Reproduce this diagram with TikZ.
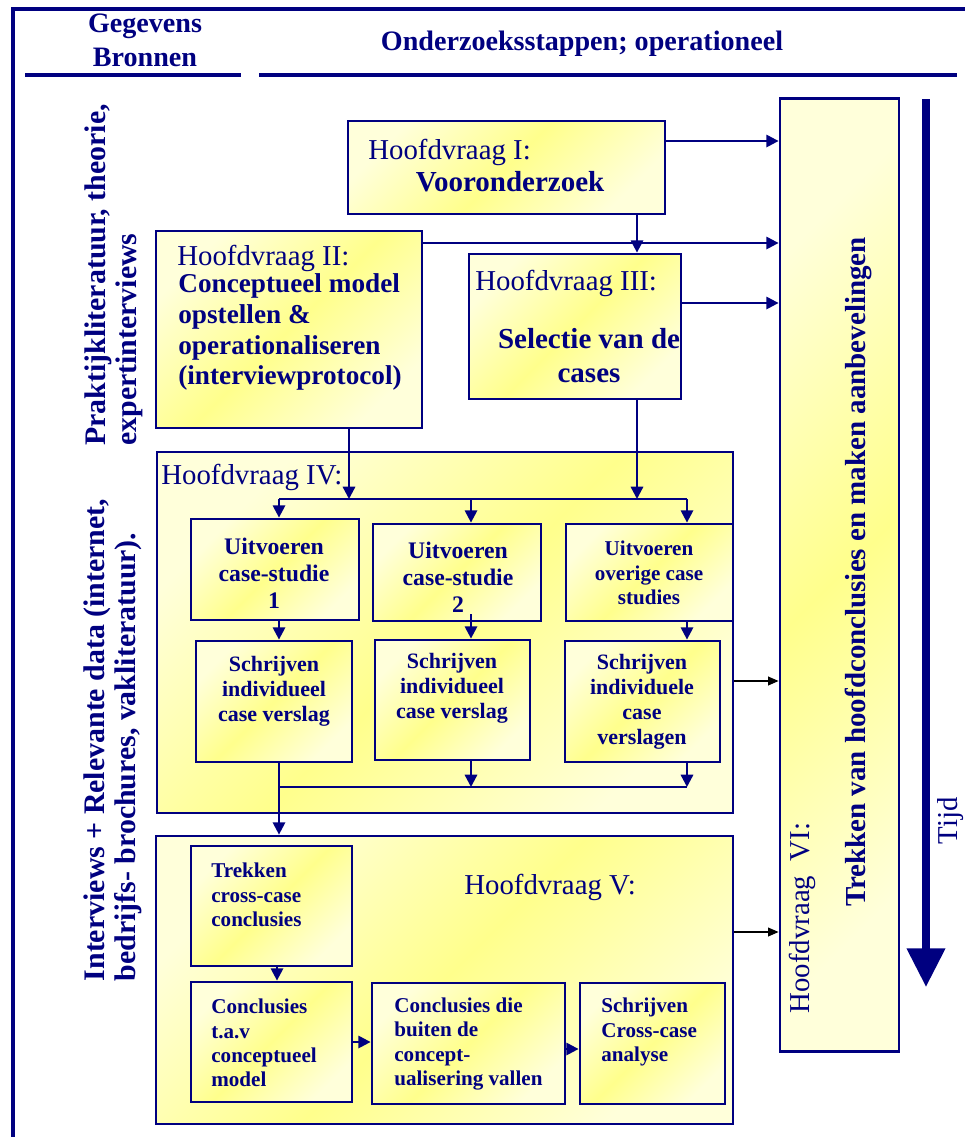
\documentclass[tikz,border=0pt]{standalone}
\usepackage{fontspec}
\setmainfont{Liberation Serif}
\usetikzlibrary{arrows.meta}

\definecolor{donkerblauw}{RGB}{0,0,128}
\definecolor{geel}{RGB}{255,255,140}
\definecolor{lichtgeel}{RGB}{255,255,218}

\begin{document}
\begin{tikzpicture}[x=0.02cm, y=-0.02cm]
			\tikzset{vak/.style={rectangle, draw=donkerblauw, line width=1.6pt, inner sep=0pt, top color=lichtgeel, bottom color=lichtgeel, middle color=geel, shading angle=45},
				lijn/.style={color=donkerblauw, line width=1.3pt},
				fleche/.style={lijn, >={Triangle[length=7pt, width=7pt]}, ->},
				zwart/.style={black, line width=0.8pt, >={Triangle[length=6pt, width=5pt]}, ->},
				titel/.style={text=donkerblauw, inner sep=0pt, font=\fontsize{16.4}{19}\selectfont},
				vet/.style={text=donkerblauw, inner sep=0pt, font=\fontsize{15.5}{17.6}\selectfont\bfseries, align=left},
				klein/.style={text=donkerblauw, inner sep=0pt, font=\fontsize{12.5}{14.2}\selectfont\bfseries, align=center}};

			\useasboundingbox (0,0) rectangle (965,1137);

			\draw[donkerblauw, line width=2pt] (13,1137) -- (13,9) -- (965,9);
			\draw[donkerblauw, line width=2.3pt] ( 25,75) -- (241,75);
			\draw[donkerblauw, line width=2.3pt] (259,75) -- (957,75);

			\node[vet, align=center, font=\fontsize{16}{19.3}\selectfont\bfseries] (kopbron) at (145,40) {Gegevens\\Bronnen};
			\node[vet, font=\fontsize{16}{19}\selectfont\bfseries] (kopstap) at (582,44) {Onderzoeksstappen; operationeel};

			\node[vet, rotate=90, font=\fontsize{17}{17.5}\selectfont\bfseries] (bron1) at (114,275) {Praktijkliteratuur, theorie,\\expertinterviews};
			\node[vet, rotate=90, font=\fontsize{17}{17.5}\selectfont\bfseries] (bron2) at (113,740) {Interviews + Relevante data (internet,\\bedrijfs- brochures, vakliteratuur).};

			\node[vak, minimum width=6.34cm, minimum height=1.86cm] (h1) at (506.5, 167.5) {};
			\node[vak, minimum width=5.32cm, minimum height=3.94cm] (h2) at (  289, 329.5) {};
			\node[vak, minimum width=4.24cm, minimum height=2.90cm] (h3) at (  575, 326.5) {};
			\node[vak, minimum width=2.38cm, minimum height=19.06cm] (h6) at (839.5,  575) {};
			\node[vak, minimum width=11.52cm, minimum height=7.22cm] (h4) at (  445, 632.5) {};
			\node[vak, minimum width=11.54cm, minimum height=5.76cm] (h5) at (444.5,   980) {};

			\node[vak, minimum width=3.36cm, minimum height=2.02cm] (u1) at (  275, 569.5) {};
			\node[vak, minimum width=3.36cm, minimum height=1.94cm] (u2) at (  457, 572.5) {};
			\node[vak, minimum width=3.34cm, minimum height=1.94cm] (u3) at (649.5, 572.5) {};
			\node[vak, minimum width=3.12cm, minimum height=2.42cm] (s1) at (  274, 701.5) {};
			\node[vak, minimum width=3.10cm, minimum height=2.40cm] (s2) at (452.5,   700) {};
			\node[vak, minimum width=3.10cm, minimum height=2.42cm] (s3) at (642.5, 701.5) {};

			\node[vak, minimum width=3.22cm, minimum height=2.40cm] (t1) at (271.5,   906) {};
			\node[vak, minimum width=3.22cm, minimum height=2.40cm] (c1) at (271.5,  1042) {};
			\node[vak, minimum width=3.86cm, minimum height=2.42cm] (c2) at (468.5,1043.5) {};
			\node[vak, minimum width=2.90cm, minimum height=2.42cm] (c3) at (652.5,1043.5) {};

			\node[titel, anchor=west] (l1) at (368,152) {Hoofdvraag I:};
			\node[vet, font=\fontsize{16.5}{19}\selectfont\bfseries] (k1) at (510,182) {Vooronderzoek};
			\node[titel, anchor=west] (l2) at (177,258) {Hoofdvraag II:};
			\node[vet, anchor=west] (k2) at (178,332) {Conceptueel model\\opstellen \&\\operationaliseren\\(interviewprotocol)};
			\node[titel, anchor=west] (l3) at (475,283) {Hoofdvraag III:};
			\node[vet, align=center, font=\fontsize{16.5}{19.3}\selectfont\bfseries] (k3) at (589,356) {Selectie van de\\cases};
			\node[titel, anchor=west] (l4) at (161,477) {Hoofdvraag IV:};
			\node[titel, anchor=west] (l5) at (464,887) {Hoofdvraag V:};
			\node[titel, rotate=90] (l6) at (802,918) {Hoofdvraag\ \ VI:};
			\node[vet, rotate=90, font=\fontsize{16.5}{19}\selectfont\bfseries] (k6) at (858,572) {Trekken van hoofdconclusies en maken aanbevelingen};
			\node[titel, rotate=90, anchor=base] (tijd) at (957,821) {Tijd};

			\node[klein, font=\fontsize{13.5}{15.3}\selectfont\bfseries] (ku1) at (274,573) {Uitvoeren\\case-studie\\1};
			\node[klein, font=\fontsize{13.5}{15.3}\selectfont\bfseries] (ku2) at (458,577) {Uitvoeren\\case-studie\\2};
			\node[klein, font=\fontsize{12}{13.9}\selectfont\bfseries] (ku3) at (649,573) {Uitvoeren\\overige case\\studies};
			\node[klein] (ks1) at (274,691) {Schrijven\\individueel\\case verslag};
			\node[klein] (ks2) at (452,688) {Schrijven\\individueel\\case verslag};
			\node[klein] (ks3) at (642,702) {Schrijven\\individuele\\case\\verslagen};

			\node[klein, align=left, anchor=west, font=\fontsize{12}{13.9}\selectfont\bfseries] (kt1) at (211, 895) {Trekken\\cross-case\\conclusies};
			\node[klein, align=left, anchor=west, font=\fontsize{12}{13.9}\selectfont\bfseries] (kc1) at (211,1043) {Conclusies\\t.a.v\\conceptueel\\model};
			\node[klein, align=left, anchor=west, font=\fontsize{12}{13.9}\selectfont\bfseries] (kc2) at (394,1044) {Conclusies die\\buiten de\\concept-\\ualisering vallen};
			\node[klein, align=left, anchor=west, font=\fontsize{12}{13.9}\selectfont\bfseries] (kc3) at (601,1032) {Schrijven\\Cross-case\\analyse};

			\coordinate (bus1l) at (279,499);
			\coordinate (bus1r) at (687,499);
			\coordinate (bus2l) at (279,787);
			\coordinate (bus2r) at (687,787);
			\coordinate (tijdboven) at (926, 99);
			\coordinate (tijdonder) at (926,987);

			\draw[fleche] (h1.east |- 0,141) -- (h6.west |- 0,141);
			\draw[lijn] (h2.east |- 0,243) -- (h1.south |- 0,243);
			\draw[fleche] (h1.south |- 0,243) -- (h6.west |- 0,243);
			\draw[fleche] (h1.south -| 637,0) -- (h3.north -| 637,0);
			\draw[fleche] (h3.east |- 0,303) -- (h6.west |- 0,303);

			\draw[fleche] (h2.south -| 349,0) -- (bus1l -| 349,0);
			\draw[fleche] (h3.south -| 637,0) -- (bus1l -| 637,0);
			\draw[lijn] (bus1l) -- (bus1r);
			\draw[fleche] (bus1l) -- (u1.north -| bus1l);
			\draw[fleche] (bus1l -| 471,0) -- (u2.north -| 471,0);
			\draw[fleche] (bus1r) -- (u3.north -| bus1r);

			\draw[fleche] (u1.south -| bus1l) -- (s1.north -| bus1l);
			\draw[fleche] (u2.south -| 471,0) ++(0,-8) -- (s2.north -| 471,0);
			\draw[fleche] (u3.south -| bus1r) -- (s3.north -| bus1r);

			\draw[fleche] (s2.south -| 471,0) -- (bus2l -| 471,0);
			\draw[fleche] (s3.south -| bus2r) -- (bus2r);
			\draw[lijn] (bus2l) -- (bus2r);
			\draw[fleche] (s1.south -| bus2l) -- (h5.north -| bus2l);

			\draw[fleche] (t1.south -| 277,0) -- (c1.north -| 277,0);
			\draw[fleche] (c1.east) -- (c2.west |- c1.east);
			\draw[fleche] (c2.east |- 0,1049) -- (c3.west |- 0,1049);

			\draw[zwart] (h4.east |- 0,681) -- (h6.west |- 0,681);
			\draw[zwart] (h5.east |- 0,932) -- (h6.west |- 0,932);

			\draw[donkerblauw, line width=4.3pt, -{Triangle[length=22pt, width=21pt]}] (tijdboven) -- (tijdonder);

		\end{tikzpicture}
\end{document}
